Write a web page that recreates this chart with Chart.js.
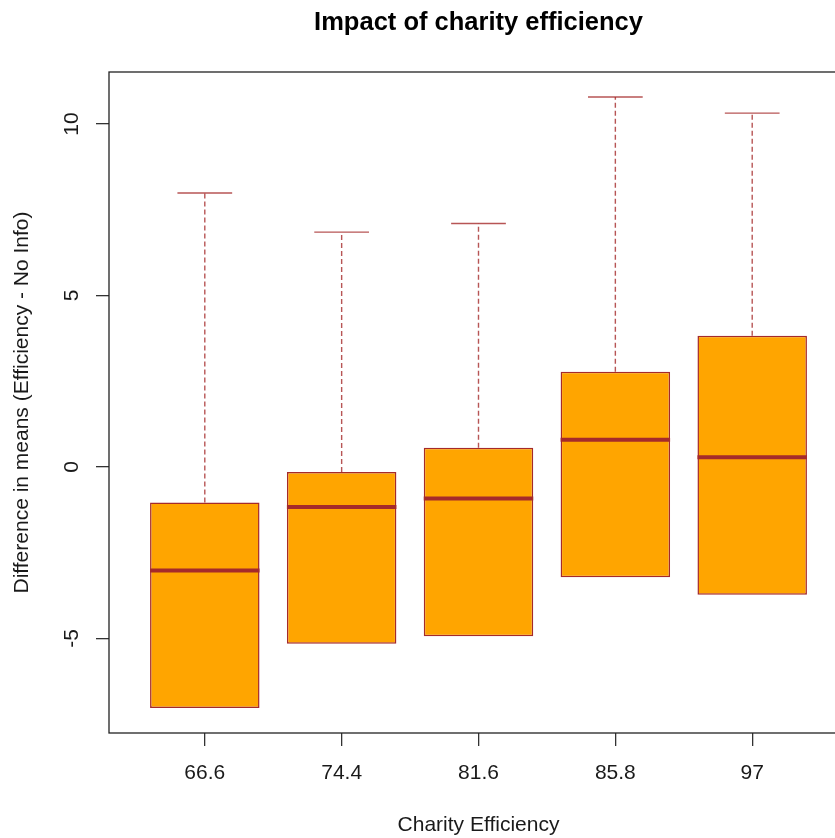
<!DOCTYPE html>
<html>
<head>
<meta charset="utf-8">
<script src="https://cdn.jsdelivr.net/npm/chart.js@4/dist/chart.umd.min.js"></script>
<style>
  html, body { margin: 0; padding: 0; background: #fff; overflow: hidden; }
  #wrap { width: 835px; height: 838px; overflow: hidden; position: relative; }
  #wrap canvas { position: absolute; left: 0; top: 0; }
</style>
</head>
<body>
<div id="wrap"><canvas id="c" width="870" height="838"></canvas></div>
<script>
// Charity efficiency levels (x categories)
const categories = ['66.6', '74.4', '81.6', '85.8', '97'];
// Box-plot statistics per efficiency level
const whiskerLow  = [-7.03, -5.16, -4.94, -3.22, -3.73];
const quartile1   = [-7.03, -5.16, -4.94, -3.22, -3.73];
const medians     = [-3.02, -1.17, -0.92,  0.79,  0.28];
const quartile3   = [-1.04, -0.15,  0.56,  2.78,  3.83];
const whiskerHigh = [ 7.99,  6.85,  7.10, 10.79, 10.32];
// Axis ticks and ranges
const yTicks = [-5, 0, 5, 10];
const yRange = [-7.76, 11.52];
const xRange = [0.3, 5.7];

const TITLE = 'Impact of charity efficiency';
const FONT = "'Liberation Sans', Arial, sans-serif";
const BOX_FILL = '#FFA500';
const BOX_LINE = '#A52A2A';
const INK = '#1a1a1a';

const boxes = categories.map((c, i) => ({ x: i + 1, y: [quartile1[i], quartile3[i]] }));

function boxGeometry(chart) {
  const ys = chart.scales.y;
  return chart.getDatasetMeta(0).data.map((bar, i) => ({
    cx: bar.x,
    half: bar.width / 2,
    yQ1: ys.getPixelForValue(quartile1[i]),
    yQ3: ys.getPixelForValue(quartile3[i]),
    yLo: ys.getPixelForValue(whiskerLow[i]),
    yHi: ys.getPixelForValue(whiskerHigh[i]),
    yMed: ys.getPixelForValue(medians[i])
  }));
}

function drawWhisker(ctx, g, from, to) {
  if (Math.abs(to - from) < 0.5) return; // zero-length whisker hides under the box edge
  const capHalf = g.half / 2;
  ctx.setLineDash([5, 3]);
  ctx.beginPath();
  ctx.moveTo(g.cx, from); ctx.lineTo(g.cx, to);
  ctx.stroke();
  ctx.setLineDash([]);
  ctx.beginPath();
  ctx.moveTo(g.cx - capHalf, to); ctx.lineTo(g.cx + capHalf, to);
  ctx.stroke();
}

// Whiskers and caps go under the boxes; medians, frame and title on top
const boxPlotExtras = {
  id: 'boxPlotExtras',
  beforeDatasetsDraw(chart) {
    const ctx = chart.ctx;
    ctx.save();
    ctx.strokeStyle = 'rgba(165,42,42,0.8)';
    ctx.lineWidth = 1.4;
    boxGeometry(chart).forEach(g => {
      drawWhisker(ctx, g, g.yQ3, g.yHi);
      drawWhisker(ctx, g, g.yQ1, g.yLo);
    });
    ctx.restore();
  },
  afterDatasetsDraw(chart) {
    const ctx = chart.ctx;
    ctx.save();
    ctx.strokeStyle = BOX_LINE;
    ctx.lineWidth = 4;
    boxGeometry(chart).forEach(g => {
      ctx.beginPath();
      ctx.moveTo(g.cx - g.half, g.yMed); ctx.lineTo(g.cx + g.half, g.yMed);
      ctx.stroke();
    });
    const a = chart.chartArea;
    ctx.strokeStyle = '#222';
    ctx.lineWidth = 1.3;
    ctx.strokeRect(a.left, a.top, a.right - a.left, a.bottom - a.top);
    ctx.fillStyle = '#000';
    ctx.font = 'bold 25.5px ' + FONT;
    ctx.textAlign = 'center';
    ctx.textBaseline = 'alphabetic';
    ctx.fillText(TITLE, (a.left + a.right) / 2, 30);
    ctx.restore();
  }
};

new Chart(document.getElementById('c'), {
  type: 'bar',
  data: {
    datasets: [{
      data: boxes,
      backgroundColor: BOX_FILL,
      borderColor: BOX_LINE,
      borderWidth: 1.5,
      borderSkipped: false,
      barPercentage: 0.8,
      categoryPercentage: 1.0
    }]
  },
  options: {
    responsive: false,
    animation: false,
    devicePixelRatio: 1,
    layout: { padding: { top: 72, right: 22, left: 0, bottom: 0 } },
    plugins: { legend: { display: false }, tooltip: { enabled: false }, title: { display: false } },
    scales: {
      x: {
        type: 'linear',
        offset: false,
        min: xRange[0], max: xRange[1],
        afterBuildTicks: s => { s.ticks = categories.map((c, i) => ({ value: i + 1 })); },
        afterFit: s => { s.height = 105; },
        ticks: {
          callback: v => categories[Math.round(v) - 1],
          font: { family: FONT, size: 21 },
          color: INK,
          padding: 15,
          maxRotation: 0, minRotation: 0
        },
        grid: { offset: false, drawOnChartArea: false, drawTicks: true, tickLength: 13, color: '#333', lineWidth: 1.3 },
        border: { display: false },
        title: {
          display: true, text: 'Charity Efficiency',
          font: { family: FONT, size: 21 }, color: INK,
          padding: { top: 0, bottom: 0 }
        }
      },
      y: {
        min: yRange[0], max: yRange[1],
        afterBuildTicks: s => { s.ticks = yTicks.map(v => ({ value: v })); },
        afterFit: s => { s.width = 109; },
        ticks: {
          font: { family: FONT, size: 21 },
          color: INK,
          padding: 12,
          minRotation: 90, maxRotation: 90,
          crossAlign: 'center'
        },
        grid: { drawOnChartArea: false, drawTicks: true, tickLength: 13, color: '#333', lineWidth: 1.3 },
        border: { display: false },
        title: {
          display: true, text: 'Difference in means (Efficiency - No Info)',
          font: { family: FONT, size: 21 }, color: INK,
          padding: { top: 10, bottom: 0 }
        }
      }
    }
  },
  plugins: [boxPlotExtras]
});
</script>
</body>
</html>
